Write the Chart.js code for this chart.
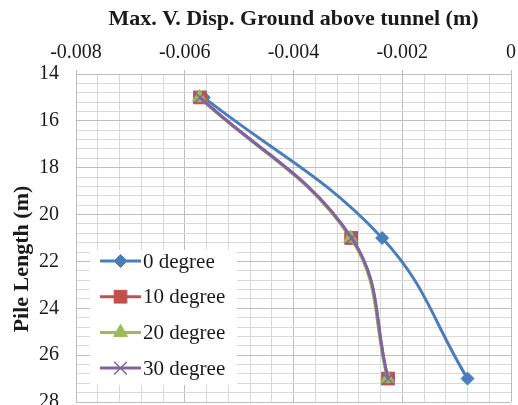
<!DOCTYPE html>
<html>
<head>
<meta charset="utf-8">
<script src="https://cdn.jsdelivr.net/npm/chart.js@4.4.1/dist/chart.umd.min.js"></script>
<style>
  html, body { margin: 0; padding: 0; background: #ffffff; }
  #wrap { width: 518px; height: 405px; position: relative; }
</style>
</head>
<body>
<div id="wrap"><canvas id="c" width="518" height="405"></canvas></div>
<script>
// ---- data ----
const pileLength = [15, 21, 27];
const deg0  = [-0.00565, -0.00237, -0.00080];
const deg10 = [-0.00572, -0.00294, -0.00226];
const deg20 = [-0.00573, -0.00295, -0.00227];
const deg30 = [-0.00572, -0.00293, -0.00226];
const seriesNames = ['0 degree', '10 degree', '20 degree', '30 degree'];
const xTickLabels = ['-0.008', '-0.006', '-0.004', '-0.002', '0'];
const yTickLabels = ['14', '16', '18', '20', '22', '24', '26', '28'];
const xTitle = 'Max. V. Disp. Ground above tunnel (m)';
const yTitle = 'Pile Length (m)';

const FONT = "'Liberation Serif', 'Times New Roman', serif";
const TXT = '#1a1a1a';
const MAJOR = '#bdbdbd';
const MINOR = '#d9d9d9';

function pts(xs) { return xs.map((x, i) => ({ x: x, y: pileLength[i] })); }

const styles = [
  { color: '#4a7ebb', point: 'rectRot', r: 6.5, bw: 1 },
  { color: '#c0504d', point: 'rect', r: 9, bw: 1 },
  { color: '#9bbb59', point: 'triangle', r: 8, bw: 1 },
  { color: '#8064a2', point: 'crossRot', r: 9, bw: 1.5 }
];
const allSeries = [deg0, deg10, deg20, deg30];

const datasets = allSeries.map((s, i) => ({
  label: seriesNames[i],
  data: pts(s),
  showLine: true,
  borderColor: styles[i].color,
  backgroundColor: styles[i].color,
  borderWidth: 3,
  tension: 0.4,
  pointStyle: styles[i].point,
  pointRadius: styles[i].r,
  pointHoverRadius: styles[i].r,
  pointBorderWidth: styles[i].bw,
  pointBorderColor: styles[i].color,
  pointBackgroundColor: styles[i].color,
  order: 3 - i,
  clip: false
}));

function isMajor(v, step) {
  return Math.abs(Math.round(v / step) * step - v) < 1e-9;
}

const legendPlugin = {
  id: 'insideLegend',
  afterDatasetsDraw(chart) {
    const ctx = chart.ctx;
    const bx = 90, by = 250, bw = 147, bh = 135;
    ctx.save();
    ctx.fillStyle = '#ffffff';
    ctx.fillRect(bx, by, bw, bh);
    chart.data.datasets.forEach((ds, i) => {
      const y = 261 + i * 35.7;
      ctx.strokeStyle = ds.borderColor;
      ctx.lineWidth = 3;
      ctx.beginPath();
      ctx.moveTo(100, y);
      ctx.lineTo(141, y);
      ctx.stroke();
      ctx.fillStyle = ds.pointBackgroundColor;
      ctx.strokeStyle = ds.pointBorderColor;
      ctx.lineWidth = ds.pointBorderWidth;
      Chart.helpers.drawPoint(ctx, { pointStyle: ds.pointStyle, radius: ds.pointRadius, rotation: 0, borderWidth: ds.pointBorderWidth }, 120.5, y);
      ctx.fillStyle = TXT;
      ctx.font = '21px ' + FONT;
      ctx.textBaseline = 'middle';
      ctx.textAlign = 'left';
      ctx.fillText(ds.label, 143, y + 1);
    });
    ctx.restore();
  }
};

const yTitlePlugin = {
  id: 'yTitle',
  afterDraw(chart) {
    const ctx = chart.ctx;
    ctx.save();
    ctx.translate(22, 259);
    ctx.rotate(-Math.PI / 2);
    ctx.font = 'bold 22px ' + FONT;
    ctx.fillStyle = TXT;
    ctx.textAlign = 'center';
    ctx.textBaseline = 'middle';
    ctx.fillText(yTitle, 0, 0);
    ctx.restore();
  }
};

new Chart(document.getElementById('c'), {
  type: 'scatter',
  data: { datasets: datasets },
  plugins: [legendPlugin, yTitlePlugin],
  options: {
    responsive: false,
    animation: false,
    devicePixelRatio: 1,
    layout: { autoPadding: false, padding: { left: 0, right: 7, top: 0, bottom: 3 } },
    plugins: { legend: { display: false }, tooltip: { enabled: false } },
    scales: {
      x: {
        type: 'linear',
        position: 'top',
        min: -0.008,
        max: 0,
        afterFit(scale) {
          scale.height = 74;
          scale.paddingLeft = 0; scale.paddingRight = 0;
        },
        ticks: {
          stepSize: 0.0004,
          autoSkip: false,
          maxRotation: 0,
          padding: 5,
          color: TXT,
          font: { family: FONT, size: 20 },
          callback(v) {
            if (!isMajor(v, 0.002)) return '';
            return xTickLabels[Math.round((v + 0.008) / 0.002)];
          }
        },
        grid: {
          color(ctx) { return ctx.tick && isMajor(ctx.tick.value, 0.002) ? MAJOR : MINOR; },
          tickColor(ctx) { return ctx.tick && isMajor(ctx.tick.value, 0.002) ? MAJOR : 'rgba(0,0,0,0)'; },
          tickLength: 4,
          lineWidth: 1
        },
        border: { color: MAJOR },
        title: {
          display: true,
          text: xTitle,
          color: TXT,
          font: { family: FONT, size: 22, weight: 'bold' },
          padding: { top: 6, bottom: 0 }
        }
      },
      y: {
        type: 'linear',
        reverse: true,
        min: 14,
        max: 28,
        afterFit(scale) {
          scale.width = 76;
          scale.paddingTop = 0; scale.paddingBottom = 0;
        },
        ticks: {
          stepSize: 0.4,
          autoSkip: false,
          padding: 17,
          color: TXT,
          font: { family: FONT, size: 20 },
          callback(v) {
            if (!isMajor(v, 2)) return '';
            return yTickLabels[Math.round((v - 14) / 2)];
          }
        },
        grid: {
          color(ctx) { return ctx.tick && isMajor(ctx.tick.value, 2) ? MAJOR : MINOR; },
          drawTicks: false,
          lineWidth: 1
        },
        border: { color: MAJOR }
      }
    }
  }
});
</script>
</body>
</html>
